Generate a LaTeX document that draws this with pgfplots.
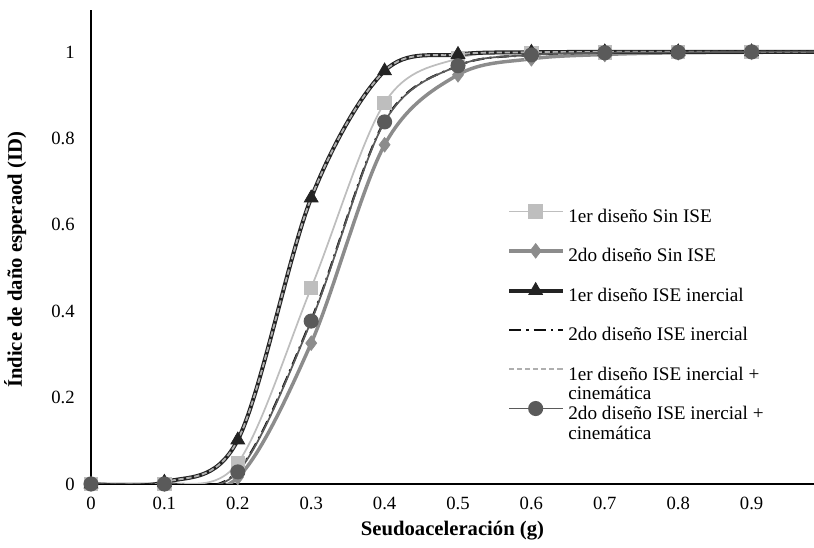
\documentclass[border=0pt]{standalone}
\usepackage{pgfplots}
\pgfplotsset{compat=1.18}
\usepackage{fontspec}
\setmainfont{Liberation Serif}
\definecolor{cA}{RGB}{190,190,190}
\definecolor{cB}{RGB}{140,140,140}
\definecolor{cC}{RGB}{35,35,35}
\definecolor{cD}{RGB}{15,15,15}
\definecolor{cE}{RGB}{175,175,175}
\definecolor{cF}{RGB}{90,90,90}
\pgfplotsset{
  myleg/.style={legend image code/.code={%
    \draw[##1,mark repeat=2,mark phase=2] plot coordinates {(0pt,3pt) (20pt,3pt) (40pt,3pt)};}},
}
\newcommand{\tl}[2]{\begin{tabular}[t]{@{}l@{}}#1\\#2\end{tabular}}
\begin{document}
\begin{tikzpicture}
\path[use as bounding box] (-68.25pt,-48pt) rectangle (542.25pt,363pt);
\begin{axis}[
  scale only axis,
  width=542.25pt, height=355.5pt,
  xmin=0, xmax=0.985, ymin=0, ymax=1.097,
  axis lines*=left,
  axis line style={-, line width=1.1pt, black},
  major tick length=0pt,
  xtick={0,0.1,0.2,0.3,0.4,0.5,0.6,0.7,0.8,0.9},
  ytick={0,0.2,0.4,0.6,0.8,1},
  /pgf/number format/assume math mode=true,
  tick label style={font=\fontsize{14}{16}\selectfont},
  xticklabel style={anchor=base, yshift=-19pt},
  yticklabel style={anchor=east, inner sep=0pt, xshift=-12pt},
  xlabel={\textbf{Seudoaceleración (g)}},
  ylabel={\textbf{Índice de daño esperaod (ID)}},
  label style={font=\fontsize{15.5}{18}\selectfont},
  xlabel style={at={(axis description cs:0.5,0)}, anchor=center, yshift=-35pt},
  ylabel style={at={(axis description cs:-0.105,0.473)}, anchor=center},
  myleg,
  legend style={draw=none, fill=none, inner sep=0pt, outer sep=0pt,
    at={(0.5754,0.591)}, anchor=north west,
    font=\fontsize{14.4}{14.8}\selectfont,
    row sep=12pt, column sep=1pt,
    cells={anchor=base west, inner sep=0pt, text height=12pt, text depth=4pt}},
  legend cell align=left,
  every axis plot/.append style={smooth, tension=0.55},
]
\addplot[color=cA, line width=1.3pt, mark=square*, mark size=4.8pt, mark options={solid, fill=cA, draw=cA}]
  coordinates {(0,0) (0.1,0) (0.2,0.049) (0.3,0.454) (0.4,0.882) (0.5,0.985) (0.6,0.997) (0.7,0.999) (0.8,1) (0.9,1) (1,1)};
\addlegendentry{1er diseño Sin ISE}
\addplot[color=cB, line width=2.6pt, mark=diamond*, mark size=5.5pt, mark options={solid, line width=0.5pt, fill=cB, draw=cB}]
  coordinates {(0,0) (0.1,0) (0.2,0.015) (0.3,0.326) (0.4,0.785) (0.5,0.947) (0.6,0.984) (0.7,0.994) (0.8,0.998) (0.9,0.999) (1,1)};
\addlegendentry{2do diseño Sin ISE}
\addplot[color=cC, line width=3pt, mark=triangle*, mark size=6pt, mark options={solid, line width=0.5pt, fill=cC, draw=cC}]
  coordinates {(0,0) (0.1,0.004) (0.2,0.102) (0.3,0.662) (0.4,0.956) (0.5,0.994) (0.6,0.999) (0.7,1) (0.8,1) (0.9,1) (1,1)};
\addlegendentry{1er diseño ISE inercial}
\addplot[color=cD, line width=1.6pt, dash pattern=on 9pt off 4pt on 1.5pt off 4pt]
  coordinates {(0,0) (0.1,0) (0.2,0.03) (0.3,0.38) (0.4,0.84) (0.5,0.968) (0.6,0.993) (0.7,0.998) (0.8,1) (0.9,1) (1,1)};
\addlegendentry{2do diseño ISE inercial}
\addplot[color=cE, line width=1.4pt, dash pattern=on 4pt off 2pt]
  coordinates {(0,0) (0.1,0.004) (0.2,0.102) (0.3,0.662) (0.4,0.956) (0.5,0.994) (0.6,0.999) (0.7,1) (0.8,1) (0.9,1) (1,1)};
\addlegendentry{\tl{1er diseño ISE inercial +}{cinemática}}
\addplot[color=cF, line width=1.3pt, mark=*, mark size=5pt, mark options={solid, fill=cF, draw=cF}]
  coordinates {(0,0) (0.1,0) (0.2,0.028) (0.3,0.377) (0.4,0.838) (0.5,0.968) (0.6,0.993) (0.7,0.998) (0.8,0.999) (0.9,1) (1,1)};
\addlegendentry{\tl{2do diseño ISE inercial +}{cinemática}}
\end{axis}
\end{tikzpicture}
\end{document}
